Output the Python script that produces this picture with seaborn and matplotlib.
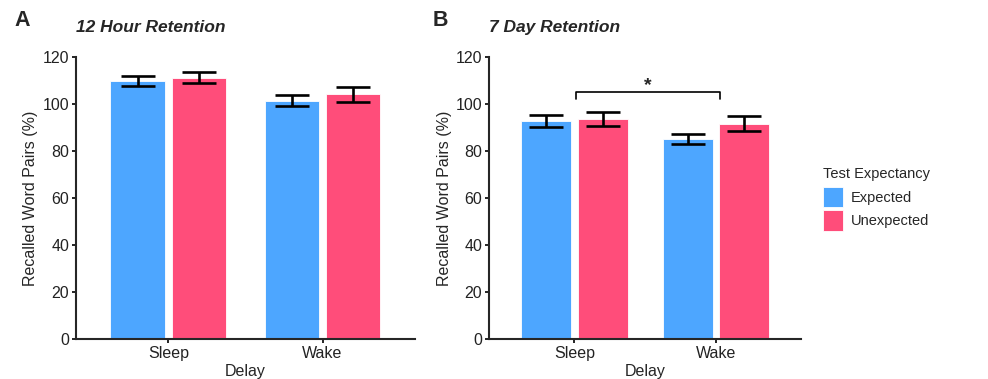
"""
plot.py - Rappel de paires de mots : 12 heures vs 7 jours (sommeil / eveil)
"""

import pandas as pd
import matplotlib
matplotlib.use("Agg")
import matplotlib.pyplot as plt
import seaborn as sns

sns.set_theme(style="ticks")
plt.rcParams.update({
    "font.family":      ["Liberation Sans", "DejaVu Sans"],
    "axes.linewidth":   1.5,
    "xtick.major.width": 1.2,
    "ytick.major.width": 1.2,
    "xtick.major.size": 3,
    "ytick.major.size": 3,
    "xtick.color":      "black",
    "ytick.color":      "black",
})

COLORS = {"Expected": "#4DA6FF", "Unexpected": "#FF4D7A"}

# Donnees
delays      = ["Sleep", "Sleep", "Wake", "Wake"]
expectancy  = ["Expected", "Unexpected", "Expected", "Unexpected"]
recall_12h  = [109.8, 111.3, 101.6, 104.2]
sem_12h     = [2.2, 2.3, 2.5, 3.3]
recall_7d   = [92.9, 93.7, 85.2, 91.7]
sem_7d      = [2.4, 2.8, 2.0, 3.2]
yticks      = [0, 20, 40, 60, 80, 100, 120]


def draw_panel(ax, values, sems, title):
    df = pd.DataFrame({"Delay": delays, "Test Expectancy": expectancy,
                       "Recall": values, "SEM": sems})
    sns.barplot(data=df, x="Delay", y="Recall", hue="Test Expectancy",
                palette=COLORS, errorbar=None, width=0.8, gap=0.12,
                saturation=1, edgecolor="white", linewidth=0.6, ax=ax)

    # Barres d'erreur (SEM) sur le centre de chaque barre
    for cont, level in zip(ax.containers, COLORS.keys()):
        sub = df[df["Test Expectancy"] == level]
        xs = [p.get_x() + p.get_width() / 2 for p in cont.patches]
        ax.errorbar(xs, sub["Recall"].values, yerr=sub["SEM"].values,
                    fmt="none", ecolor="black", elinewidth=1.9,
                    capsize=12, capthick=1.9, zorder=5)

    ax.set_xlim(-0.6, 1.6)
    ax.set_ylim(0, 120)
    ax.set_yticks(yticks)
    ax.tick_params(axis="both", labelsize=11.5, labelcolor="#222222", pad=2)
    ax.set_xlabel("Delay", fontsize=11.5, labelpad=2.5)
    ax.set_ylabel("Recalled Word Pairs (%)", fontsize=11.5, labelpad=3)
    ax.set_title(title, loc="left", fontsize=12.5, fontweight="bold",
                 fontstyle="italic", pad=18)
    sns.despine(ax=ax)
    ax.grid(False)


fig = plt.figure(figsize=(9.88, 3.79), dpi=100)
axA = fig.add_axes([0.0769, 0.1055, 0.3431, 0.7433])
axB = fig.add_axes([0.4952, 0.1055, 0.3155, 0.7433])

draw_panel(axA, recall_12h, sem_12h, "12 Hour Retention")
draw_panel(axB, recall_7d, sem_7d, "7 Day Retention")

axA.get_legend().remove()

# Legende a droite du panneau B
handles, labels = axB.get_legend_handles_labels()
axB.get_legend().remove()
leg = fig.legend(handles, labels, title="Test Expectancy",
                 loc="upper left", bbox_to_anchor=(0.826, 0.578),
                 frameon=False, fontsize=10.5, title_fontsize=10.5,
                 handlelength=1.35, handleheight=1.8, handletextpad=0.55,
                 labelspacing=0.17, borderpad=0, alignment="left")
leg._legend_box.sep = 4  # espace titre / entrees

# Crochet de significativite (panneau B)
axB.plot([0.01, 0.01, 1.03, 1.03], [102.3, 105.2, 105.2, 102.3],
         color="black", lw=1.2)
axB.text(0.52, 104.5, "*", ha="center", va="bottom", fontsize=14,
         fontweight="bold")

fig.text(0.015, 0.945, "A", fontsize=15.5, fontweight="bold", va="center")
fig.text(0.438, 0.945, "B", fontsize=15.5, fontweight="bold", va="center")

fig.savefig("out.png", dpi=100)
